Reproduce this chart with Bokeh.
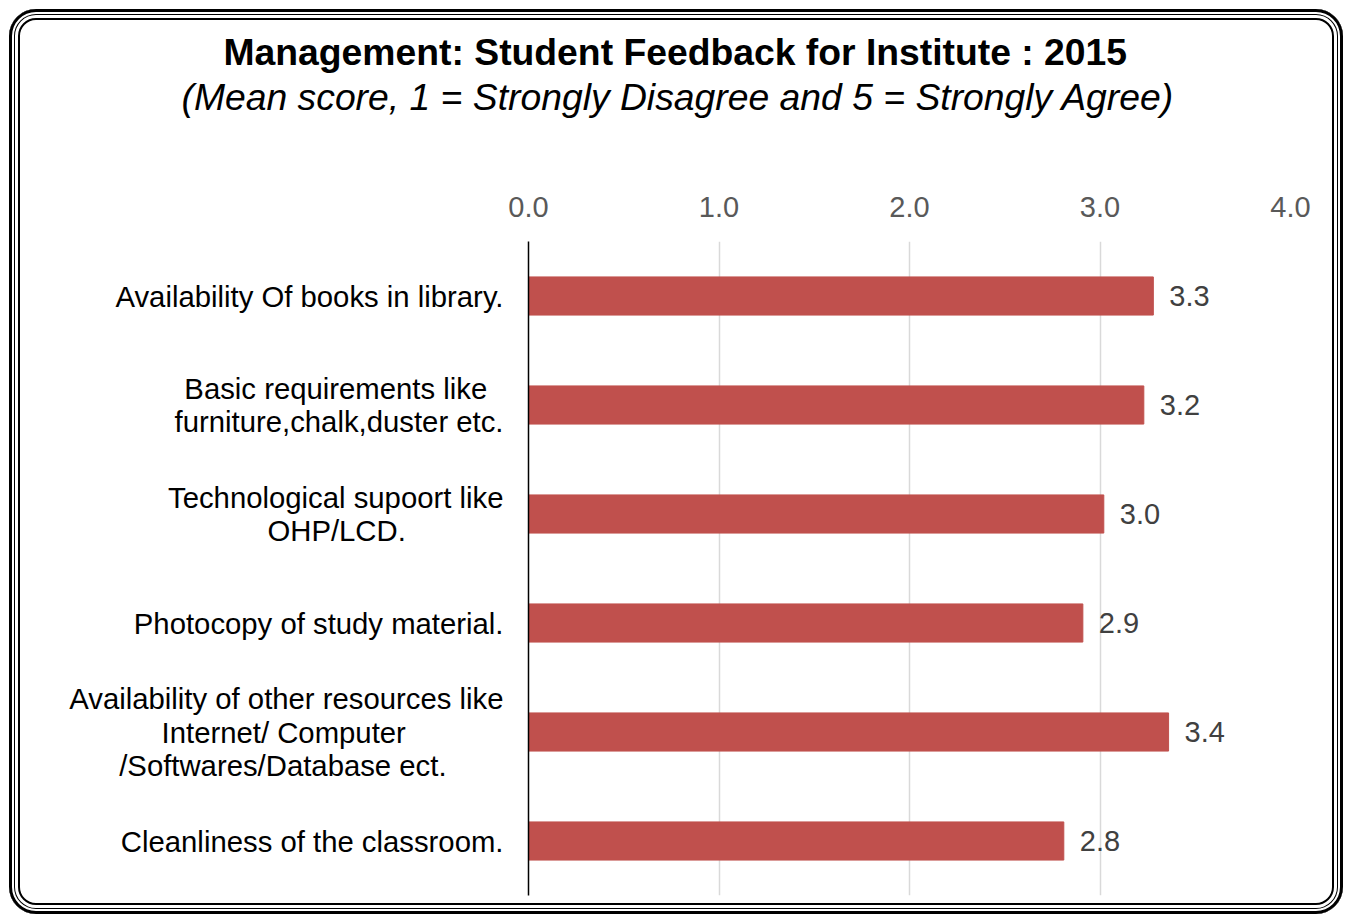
from bokeh.plotting import figure
from bokeh.models import Title, FixedTicker, NumeralTickFormatter, Range1d, FactorRange, ColumnDataSource
from bokeh.core.properties import value
from bokeh.embed import file_html
from bokeh.resources import INLINE

# ---- data ----
categories = [
    "Availability Of books in library.",
    "Basic requirements like\nfurniture,chalk,duster etc.",
    "Technological supoort like\nOHP/LCD.",
    "Photocopy of study material.",
    "Availability of other resources like\nInternet/ Computer\n/Softwares/Database ect.",
    "Cleanliness of the classroom.",
]
scores = [3.28, 3.23, 3.02, 2.91, 3.36, 2.81]
x_ticks = [0, 1, 2, 3, 4]
title_text = "Management: Student Feedback for Institute : 2015"
subtitle_text = "(Mean score, 1 = Strongly Disagree and 5 = Strongly Agree)"

# trailing no-break spaces so that the lines of each wrapped label look centred
line_pad = {
    "Basic requirements like": 2,
    "OHP/LCD.": 12,
    "Internet/ Computer": 12,
    "/Softwares/Database ect.": 7,
}

FONT = "Liberation Sans"
BAR = "#C0504D"


def padded(label):
    out = []
    for line in label.split("\n"):
        n = line_pad.get(line, 0)
        out.append(line + ("\u00a0" * n + "\u200b" if n else ""))
    return "\n".join(out)


factors = [padded(c) for c in categories]

source = ColumnDataSource(dict(
    cat=factors,
    score=scores,
    lbl=[f"{v:.1f}" for v in scores],
))

W, H = 1334, 905
p = figure(
    width=W, height=H,
    y_range=FactorRange(*reversed(factors)),
    x_range=Range1d(0, 4),
    x_axis_location="above",
    title=None,
    output_backend="svg",
    toolbar_location=None,
    min_border_left=519, min_border_right=53,
    min_border_top=232, min_border_bottom=19,
)
p.border_fill_color = None
p.background_fill_color = "white"
p.outline_line_color = None
p.styles = {
    "margin-left": "9px",
    "margin-top": "9px",
    "border-radius": "27px",
    "background-color": "white",
    "box-shadow": ("inset 0 0 0 3px black, inset 0 0 0 5px white, inset 0 0 0 6px black, "
                   "inset 0 0 0 9px white, inset 0 0 0 11px black"),
}

p.hbar(y="cat", left=0, right="score", height=0.35, color=BAR, source=source)
p.text(x="score", y="cat", text="lbl", source=source, x_offset=16,
       text_baseline="middle", text_align="left", text_font_size="29px",
       text_color="#404040", text_font=value(FONT))

# x axis on top
xa = p.xaxis[0]
xa.ticker = FixedTicker(ticks=x_ticks)
xa.formatter = NumeralTickFormatter(format="0.0")
xa.axis_line_color = None
xa.major_tick_line_color = None
xa.minor_tick_line_color = None
xa.major_label_text_font = FONT
xa.major_label_text_font_size = "29px"
xa.major_label_text_color = "#595959"
xa.major_label_standoff = 19

p.xgrid.ticker = FixedTicker(ticks=x_ticks)
p.xgrid.grid_line_color = "#D9D9D9"
p.xgrid.grid_line_width = 1.5
p.ygrid.grid_line_color = None

ya = p.yaxis[0]
ya.axis_line_color = "black"
ya.axis_line_width = 1.5
ya.major_tick_line_color = None
ya.minor_tick_line_color = None
ya.major_label_text_font = FONT
ya.major_label_text_font_size = "29.3px"
ya.major_label_text_color = "black"
ya.major_label_text_line_height = 1.02
ya.major_label_standoff = 19

spacer = Title(text="\u00a0", text_font_size="10px", standoff=62)
p.add_layout(spacer, "above")
sub = Title(text=subtitle_text, align="left", offset=-347, text_font=FONT, text_font_size="37.3px",
            text_font_style="italic", text_color="black", standoff=2)
p.add_layout(sub, "above")
main = Title(text=title_text, align="left", offset=-305, text_font=FONT, text_font_size="37.3px",
             text_font_style="bold", text_color="black", standoff=0)
p.add_layout(main, "above")

open("out.html", "w").write(file_html(p, INLINE))
